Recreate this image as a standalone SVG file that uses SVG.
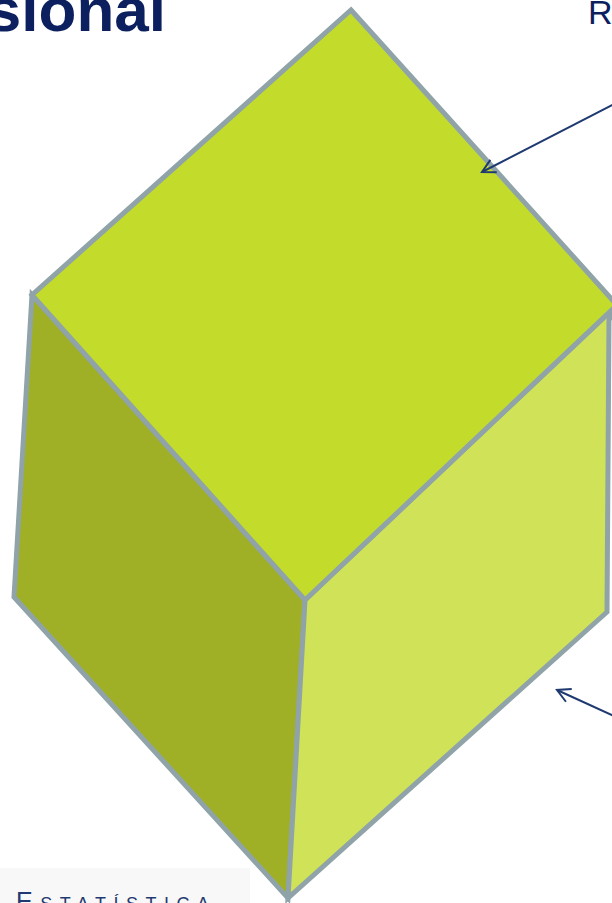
<svg xmlns="http://www.w3.org/2000/svg" width="612" height="903" viewBox="0 0 612 903">
<style>
.face{stroke:#8FA3A8;stroke-width:5;stroke-linejoin:miter}
.arr{stroke:#1F3A70;stroke-width:2;fill:none}
</style>
<defs>
<marker id="ah" markerWidth="16" markerHeight="16" refX="14" refY="8" orient="auto" markerUnits="userSpaceOnUse">
<path d="M1,1 L14,8 L1,15" fill="none" stroke="#1F3A70" stroke-width="2"/>
</marker>
</defs>
<rect width="612" height="903" fill="#ffffff"/>
<rect x="0" y="868" width="250" height="35" fill="#F8F8F8"/>
<g id="cube">
<g id="left-face"><polygon class="face" points="32,295 305,600 288,898 14,597" fill="#A0B026"/></g>
<g id="right-face"><polygon class="face" points="305,600 617,305 609,320 607,612 288,898" fill="#D0E257"/></g>
<g id="top-face"><polygon class="face" points="351,10 617,305 305,600 32,295" fill="#C3DC2C"/></g>
</g>
<g id="connectors">
<line class="arr" x1="614" y1="104" x2="482" y2="172" marker-end="url(#ah)"/>
<line class="arr" x1="614" y1="716" x2="557" y2="690" marker-end="url(#ah)"/>
</g>
<g id="labels">
<text x="166" y="31" text-anchor="end" font-family="Liberation Sans, Arial, sans-serif" font-weight="bold" font-size="62" fill="#0C1F5E">sional</text>
<text x="588" y="24" font-family="Liberation Sans, Arial, sans-serif" font-size="34" fill="#0C1F5E">R</text>
<text x="16" y="910" font-family="Liberation Sans, Arial, sans-serif" font-size="25" font-variant="small-caps" letter-spacing="7.5" fill="#1F3A70">Estatística</text>
</g>
</svg>
